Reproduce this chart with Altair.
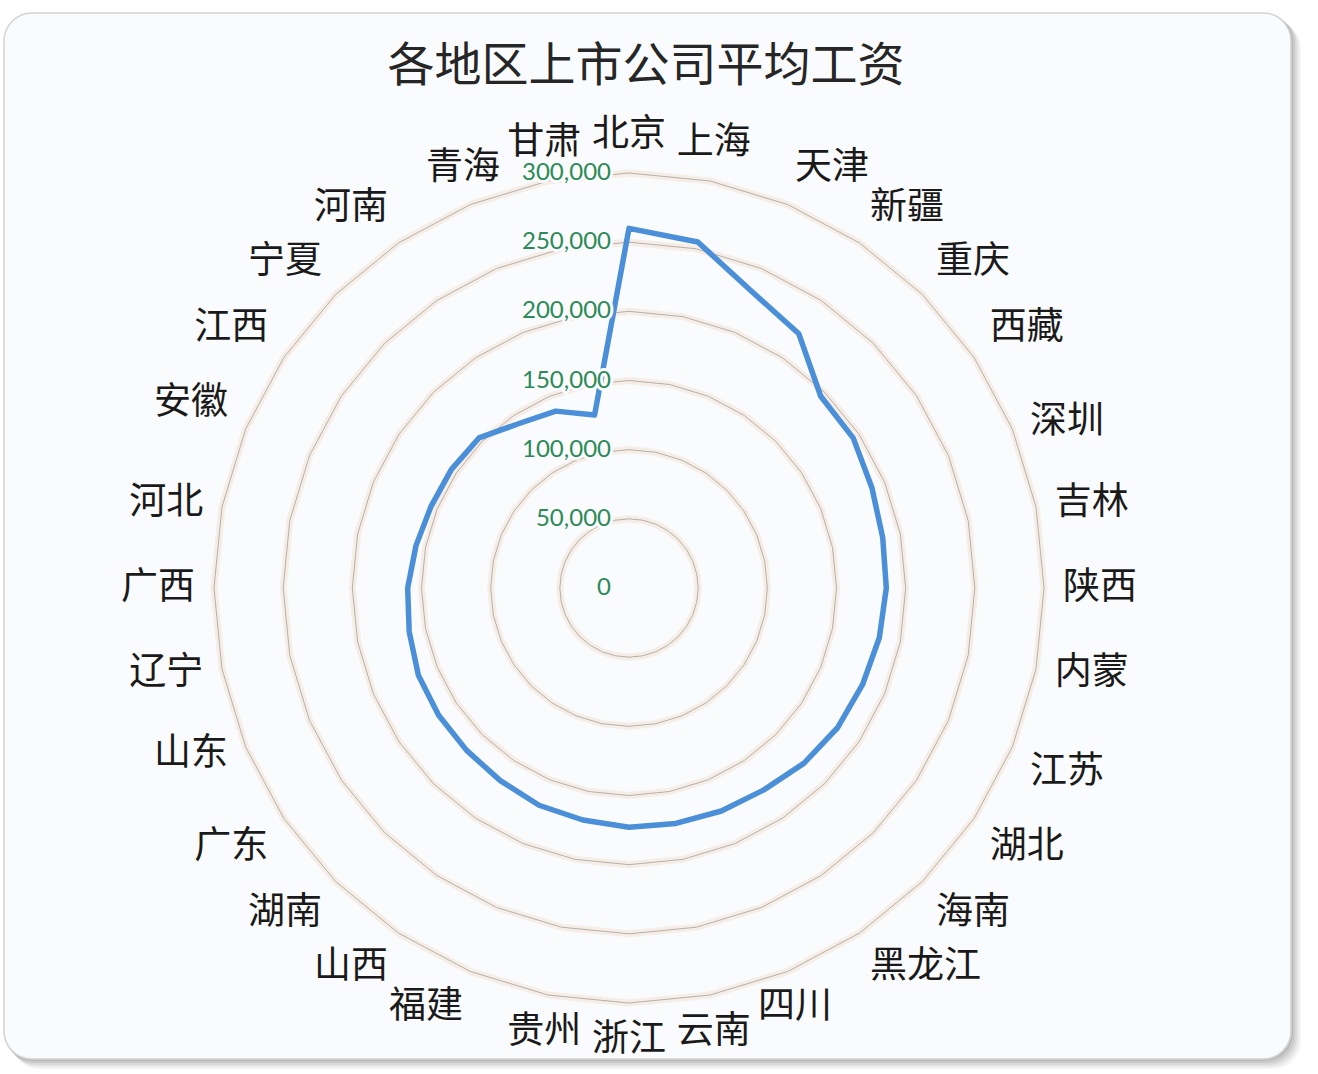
import altair as alt
import pandas as pd

# ---------------- data ----------------
categories = ["北京", "上海", "天津", "新疆", "重庆", "西藏", "深圳", "吉林",
              "陕西", "内蒙", "江苏", "湖北", "海南", "黑龙江", "四川", "云南",
              "浙江", "贵州", "福建", "山西", "湖南", "广东", "山东", "辽宁",
              "广西", "河北", "安徽", "江西", "宁夏", "河南", "青海", "甘肃"]
salaries = [260000, 255000, 232000, 221000, 196000, 195000, 190000, 187000,
            186000, 184500, 182700, 181500, 179000, 175500, 174500, 173500,
            173000, 171000, 170000, 167500, 166000, 165500, 164800, 162000,
            160000, 157000, 154800, 154400, 153400, 143000, 138400, 127500]
grid_levels = [50000, 100000, 150000, 200000, 250000, 300000]
tick_values = [0, 50000, 100000, 150000, 200000, 250000, 300000]
title_text = "各地区上市公司平均工资"

# ---------------- geometry (scales) ----------------
N = len(categories)
W, H = 1287, 1046          # plot area = the rounded frame
CX, CY = 625, 575          # centre of the radar inside the plot area (px)
PX = 415 / 300000          # pixels per unit
XDOM = [-CX / PX, (W - CX) / PX]
YDOM = [-(H - CY) / PX, CY / PX]
LABEL_R = 434 / PX

xs = alt.Scale(domain=XDOM, nice=False, zero=False)
ys = alt.Scale(domain=YDOM, nice=False, zero=False)

df = pd.DataFrame({"cat": categories, "val": salaries, "idx": list(range(N))})
grid_df = pd.DataFrame(
    [{"level": lv, "idx": i} for lv in grid_levels for i in range(N)]
)
tick_df = pd.DataFrame({"v": tick_values})
one = pd.DataFrame({"k": [0]})

ANG = f"datum.idx * 2 * PI / {N}"

FONT_CJK = "Noto Sans CJK SC"

# ---------------- frame & shadow ----------------
shadows = []
for off, op in [(2, 0.08), (4, 0.07), (6, 0.06), (8, 0.05), (10, 0.04)]:
    shadows.append(
        alt.Chart(one).mark_rect(cornerRadius=28, color="#000000", opacity=op).encode(
            x=alt.value(off - 2), x2=alt.value(W + off),
            y=alt.value(off - 2), y2=alt.value(H + off))
    )
frame = alt.Chart(one).mark_rect(
    cornerRadius=28, fill="#fafbfd", stroke="#d4d4d4", strokeWidth=1.5
).encode(x=alt.value(0), x2=alt.value(W), y=alt.value(0), y2=alt.value(H))

# ---------------- grid ----------------
grid_base = alt.Chart(grid_df).transform_calculate(
    a=ANG
).transform_calculate(
    x="datum.level * sin(datum.a)", y="datum.level * cos(datum.a)"
)
grid_halo = grid_base.mark_line(
    interpolate="linear-closed", color="#f4e8de", strokeWidth=7, opacity=0.75
).encode(
    x=alt.X("x:Q", scale=xs, axis=None),
    y=alt.Y("y:Q", scale=ys, axis=None),
    detail="level:N", order="idx:Q")
grid_line = grid_base.mark_line(
    interpolate="linear-closed", color="#b4b0ac", strokeWidth=1
).encode(
    x=alt.X("x:Q", scale=xs, axis=None),
    y=alt.Y("y:Q", scale=ys, axis=None),
    detail="level:N", order="idx:Q")

# ---------------- series ----------------
series = alt.Chart(df).transform_calculate(
    a=ANG
).transform_calculate(
    x="datum.val * sin(datum.a)", y="datum.val * cos(datum.a)"
).mark_line(
    interpolate="linear-closed", color="#4a8fd8", strokeWidth=5.5, strokeJoin="round"
).encode(
    x=alt.X("x:Q", scale=xs, axis=None),
    y=alt.Y("y:Q", scale=ys, axis=None),
    order="idx:Q")

# ---------------- radial axis labels ----------------
tick_base = alt.Chart(tick_df).transform_calculate(x="0", y="datum.v")
tick_halo = tick_base.mark_text(
    align="right", baseline="middle", dx=-18, font="Lato", fontSize=24,
    fill="#fafbfd", stroke="#fafbfd", strokeWidth=6
).encode(
    x=alt.X("x:Q", scale=xs, axis=None), y=alt.Y("y:Q", scale=ys, axis=None),
    text=alt.Text("v:Q", format=","))
tick_text = tick_base.mark_text(
    align="right", baseline="middle", dx=-18, font="Lato", fontSize=24,
    color="#2b8a57"
).encode(
    x=alt.X("x:Q", scale=xs, axis=None), y=alt.Y("y:Q", scale=ys, axis=None),
    text=alt.Text("v:Q", format=","))

# ---------------- category labels ----------------
ALIGN = ("(datum.deg >= 336 || datum.deg <= 12 || (datum.deg >= 156 && datum.deg <= 192))"
         " ? 'center' : (datum.deg < 180 ? 'left' : 'right')")
BASE = ("(datum.deg >= 105 && datum.deg < 240) ? 'top' : "
        "((datum.deg < 62 || datum.deg > 285) ? 'bottom' : 'middle')")
cat_labels = alt.Chart(df).transform_calculate(
    a=ANG, deg=f"datum.idx * 360 / {N}"
).transform_calculate(
    x=f"{LABEL_R} * sin(datum.a)", y=f"{LABEL_R} * cos(datum.a)"
).mark_text(
    font=FONT_CJK, fontSize=37, color="#1a1a1a",
    align=alt.ExprRef(expr=ALIGN), baseline=alt.ExprRef(expr=BASE)
).encode(
    x=alt.X("x:Q", scale=xs, axis=None),
    y=alt.Y("y:Q", scale=ys, axis=None),
    text="cat:N")

# ---------------- title ----------------
title = alt.Chart(pd.DataFrame({"t": [title_text]})).mark_text(
    font=FONT_CJK, fontSize=47, color="#262626", align="center", baseline="middle"
).encode(x=alt.value(642), y=alt.value(54), text="t:N")

chart = alt.layer(
    *shadows, frame, grid_halo, grid_line, series, tick_halo, tick_text,
    cat_labels, title
).properties(
    width=W, height=H,
    padding={"left": 3, "top": 12, "right": 0, "bottom": 0},
    background="#ffffff"
).configure_view(strokeWidth=0)

chart.save("out.html", embed_options={"renderer": "svg", "actions": False})
